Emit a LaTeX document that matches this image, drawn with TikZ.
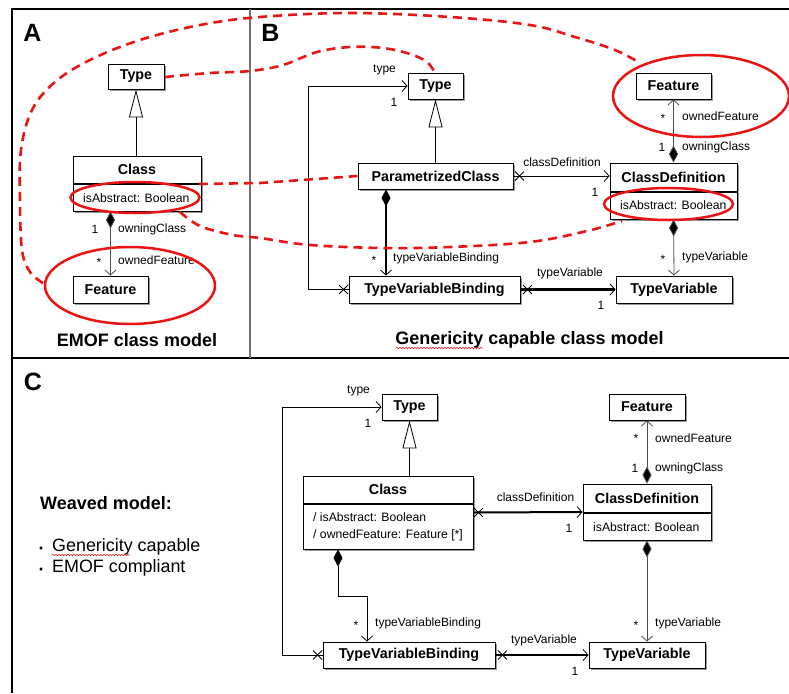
\documentclass[tikz,border=0pt]{standalone}
\usepackage{fontspec}
\setmainfont{Liberation Sans}
\usetikzlibrary{arrows.meta,shadows,calc,decorations.pathmorphing}
\definecolor{myred}{RGB}{235,20,20}
\tikzset{
  umlbox/.style={draw=black, line width=0.9pt, fill=white, inner sep=0,
    drop shadow={shadow xshift=2pt,shadow yshift=-2pt,fill=black!40,opacity=1}},
  bname/.style={inner sep=0, font=\fontsize{14.3}{16}\selectfont\bfseries},
  attr/.style={inner sep=0, anchor=west, font=\fontsize{12.2}{14}\selectfont},
  lbl/.style={inner sep=0, font=\fontsize{12}{14}\selectfont},
  big/.style={inner sep=0, font=\fontsize{25}{28}\selectfont\bfseries},
  caption/.style={inner sep=0, font=\fontsize{18}{20}\selectfont\bfseries},
  bullettext/.style={inner sep=0, anchor=base west, font=\fontsize{17.9}{20}\selectfont},
  conn/.style={draw=black, line width=0.8pt},
  grayconn/.style={draw=black!70, line width=0.8pt},
  thickconn/.style={draw=black, line width=2.6pt},
  medconn/.style={draw=black, line width=2pt},
  gen/.style={-{Triangle[open,length=28pt,width=14pt,fill=white,line width=0.8pt]}},
  nav/.style={-{Straight Barb[length=5pt,width=11pt,line width=0.8pt]}},
  comp/.style={{Diamond[length=17pt,width=9pt,fill=black]}-{Straight Barb[length=5pt,width=11pt,line width=0.8pt]}},
  frame/.style={draw=black, line width=1.2pt},
  reddash/.style={draw=myred, line width=2.6pt, dash pattern=on 9pt off 6pt},
  redring/.style={draw=myred, line width=2.5pt},
  squiggle/.style={draw=myred, line width=0.5pt, decorate, decoration={snake, amplitude=0.8pt, segment length=3pt}}
}
\newcommand{\umlX}[1]{\draw[line width=0.8pt] ($#1$) ++(-4.5,-4.5) -- ++(9,9) ++(-9,0) -- ++(9,-9);}
\begin{document}
\begin{tikzpicture}[x=1pt,y=-1pt]
\useasboundingbox (0,0) rectangle (789,693);
\fill[white] (0,0) rectangle (789,693);
% frame
\draw[frame] (12,693) -- (12,9) -- (789,9);
\draw[frame] (12,358) -- (789,358);
\draw[draw=black!55, line width=1.2pt] (250,9) -- (250,358);

% ================= Panel A =================
\node[big] (letA) at (32.5,32.5) {A};
\node[umlbox, minimum width=56, minimum height=25] (typeA) at (136,76.5) {};
\node[bname] (typeAname) at (136,76.5) {Type};
\node[umlbox, minimum width=128, minimum height=55] (classA) at (137,183.5) {};
\draw[line width=1.3pt] (classA.west |- 0,184) -- (classA.east |- 0,184);
\node[bname] (classAname) at (137,169) {Class};
\node[attr] (classAattr) at (83,198) {isAbstract: Boolean};
\node[umlbox, minimum width=75, minimum height=27] (featA) at (110.5,289.5) {};
\node[bname] (featAname) at (110.5,289.5) {Feature};
\draw[conn, gen] (typeA.south |- classA.north) -- (typeA.south);
\draw[grayconn, comp] (featA.north |- classA.south) -- (featA.north);
\node[lbl] (a1) at (95,229) {1};
\node[lbl, anchor=west] (a2) at (118,229) {owningClass};
\node[lbl] (a3) at (99,262) {*};
\node[lbl, anchor=west] (a4) at (118,260) {ownedFeature};
\node[caption] (capA) at (137,340) {EMOF class model};

% ================= Panel B =================
\node[big] (letB) at (270.5,33) {B};
\node[umlbox, minimum width=55, minimum height=26] (typeB) at (435.5,86) {};
\node[bname] (typeBname) at (435.5,86) {Type};
\node[umlbox, minimum width=155, minimum height=26] (pcB) at (435.5,176) {};
\node[bname] (pcBname) at (435.5,176) {ParametrizedClass};
\node[umlbox, minimum width=171, minimum height=27] (tvbB) at (434.5,289.5) {};
\node[bname] (tvbBname) at (434.5,289.5) {TypeVariableBinding};
\node[umlbox, minimum width=75, minimum height=26] (featB) at (673.5,86) {};
\node[bname] (featBname) at (673.5,86) {Feature};
\node[umlbox, minimum width=127, minimum height=56] (cdB) at (673.5,191) {};
\draw[line width=1.8pt] (cdB.west |- 0,192) -- (cdB.east |- 0,192);
\node[bname] (cdBname) at (673.5,177) {ClassDefinition};
\node[attr] (cdBattr) at (620,205) {isAbstract: Boolean};
\node[umlbox, minimum width=116, minimum height=27] (tvB) at (674,289.5) {};
\node[bname] (tvBname) at (674,289.5) {TypeVariable};

\draw[conn, gen] (pcB.north) -- (typeB.south);
\draw[thickconn, comp] ([xshift=-49.5]pcB.south) -- ([xshift=-49.5]pcB.south |- tvbB.north);
\draw[conn, nav] (tvbB.west) -- ++(-40,0) |- (typeB.west);
\umlX{(tvbB.west)+(-5,0)}
\draw[conn, nav] (pcB.east) -- (pcB.east -| cdB.west);
\umlX{(pcB.east)+(6,0)}
\draw[grayconn, comp] (cdB.north) -- (featB.south);
\draw[grayconn, comp] (cdB.south) -- (tvB.north);
\draw[thickconn, nav] (tvbB.east) -- (tvB.west);
\umlX{(tvbB.east)+(7,0)}

\node[lbl] (b1) at (384.5,70) {type};
\node[lbl] (b2) at (394,102) {1};
\node[lbl] (b3) at (374,260) {*};
\node[lbl, anchor=west] (b4) at (393,258) {typeVariableBinding};
\node[lbl] (b5) at (562,162) {classDefinition};
\node[lbl] (b6) at (595,192) {1};
\node[lbl] (b7) at (663,118) {*};
\node[lbl, anchor=west] (b8) at (682,116) {ownedFeature};
\node[lbl] (b9) at (662,147) {1};
\node[lbl, anchor=west] (b10) at (682,147) {owningClass};
\node[lbl] (b11) at (663,259) {*};
\node[lbl, anchor=west] (b12) at (682,257) {typeVariable};
\node[lbl] (b13) at (570,273) {typeVariable};
\node[lbl] (b14) at (601,305) {1};
\node[caption] (capB) at (529.5,340) {Genericity capable class model};
\draw[squiggle] (396,348) -- (483,348);

% ================= Panel C =================
\node[big] (letC) at (33,382) {C};
\node[caption, anchor=west] (weave) at (40,503) {Weaved model:};
\node[bullettext] (dot1) at (38.5,554.5) {\textbf{·}};
\node[bullettext] (bul1) at (52,551.5) {Genericity capable};
\node[bullettext] (dot2) at (38.5,575.5) {\textbf{·}};
\node[bullettext] (bul2) at (52,572.5) {EMOF compliant};
\draw[squiggle] (52,555) -- (130,555);

\node[umlbox, minimum width=55, minimum height=26] (typeC) at (409.5,407) {};
\node[bname] (typeCname) at (409.5,407) {Type};
\node[umlbox, minimum width=170, minimum height=73] (classC) at (388,512.5) {};
\draw[line width=1.8pt] (classC.west |- 0,504) -- (classC.east |- 0,504);
\node[bname] (classCname) at (388,489) {Class};
\node[attr] (classCattr1) at (313,517) {/ isAbstract: Boolean};
\node[attr] (classCattr2) at (313,535) {/ ownedFeature: Feature [*]};
\node[umlbox, minimum width=172, minimum height=26] (tvbC) at (409,655) {};
\node[bname] (tvbCname) at (409,655) {TypeVariableBinding};
\node[umlbox, minimum width=76, minimum height=26] (featC) at (647,407) {};
\node[bname] (featCname) at (647,407) {Feature};
\node[umlbox, minimum width=128, minimum height=56] (cdC) at (647,512) {};
\draw[line width=1.8pt] (cdC.west |- 0,513) -- (cdC.east |- 0,513);
\node[bname] (cdCname) at (647,498) {ClassDefinition};
\node[attr] (cdCattr) at (593,527) {isAbstract: Boolean};
\node[umlbox, minimum width=116, minimum height=26] (tvC) at (647,655) {};
\node[bname] (tvCname) at (647,655) {TypeVariable};

\draw[conn, gen] (typeC.south |- classC.north) -- (typeC.south);
\draw[conn, comp] ([xshift=-50]classC.south) -- ++(0,47) -| ([xshift=-42]tvbC.north);
\draw[conn, nav] (tvbC.west) -- ++(-40,0) |- (typeC.west);
\umlX{(tvbC.west)+(-5,0)}
\draw[medconn, nav] (classC.east) -- (cdC.west);
\umlX{(classC.east)+(5,0)}
\draw[grayconn, comp] (cdC.north) -- (featC.south);
\draw[grayconn, comp] (cdC.south) -- (tvC.north);
\draw[medconn, nav] (tvbC.east) -- (tvC.west);
\umlX{(tvbC.east)+(7,0)}

\node[lbl] (c1) at (358.5,391) {type};
\node[lbl] (c2) at (368,423) {1};
\node[lbl] (c3) at (356,625) {*};
\node[lbl, anchor=west] (c4) at (375,623) {typeVariableBinding};
\node[lbl] (c5) at (535.5,497) {classDefinition};
\node[lbl] (c6) at (569,528) {1};
\node[lbl] (c7) at (636,438) {*};
\node[lbl, anchor=west] (c8) at (655,438) {ownedFeature};
\node[lbl] (c9) at (635,468) {1};
\node[lbl, anchor=west] (c10) at (655,468) {owningClass};
\node[lbl] (c11) at (636,625) {*};
\node[lbl, anchor=west] (c12) at (655,623) {typeVariable};
\node[lbl] (c13) at (544,640) {typeVariable};
\node[lbl] (c14) at (575,671) {1};

% ================= red annotations =================
\draw[redring] (135,197.5) ellipse [x radius=64.5, y radius=15.5];
\draw[redring] (130,285.5) ellipse [x radius=85, y radius=38.5];
\draw[redring] (668.5,204) ellipse [x radius=64.5, y radius=16];
\draw[redring] (701,96) ellipse [x radius=88, y radius=41];
\draw[reddash] plot[smooth, tension=0.6] coordinates {(43,283) (30,272) (22,250) (20,200) (21,150) (32,110) (55,82) (90,60) (140,40) (200,25) (260,17) (350,13) (450,17) (530,25) (575,37) (615,50) (640,63)};
\draw[reddash] plot[smooth, tension=0.6] coordinates {(165,77) (210,73) (250,71) (283,65) (317,52) (350,47) (383,48) (410,54) (427,62) (435,73)};
\draw[reddash] (199,184) -- (260,183) -- (pcB.west);
\draw[reddash] plot[smooth, tension=0.6] coordinates {(180,212) (200,226) (233,235) (260,238) (310,245) (383,248) (450,247) (530,242) (587,231) (622,221)};
\end{tikzpicture}
\end{document}
